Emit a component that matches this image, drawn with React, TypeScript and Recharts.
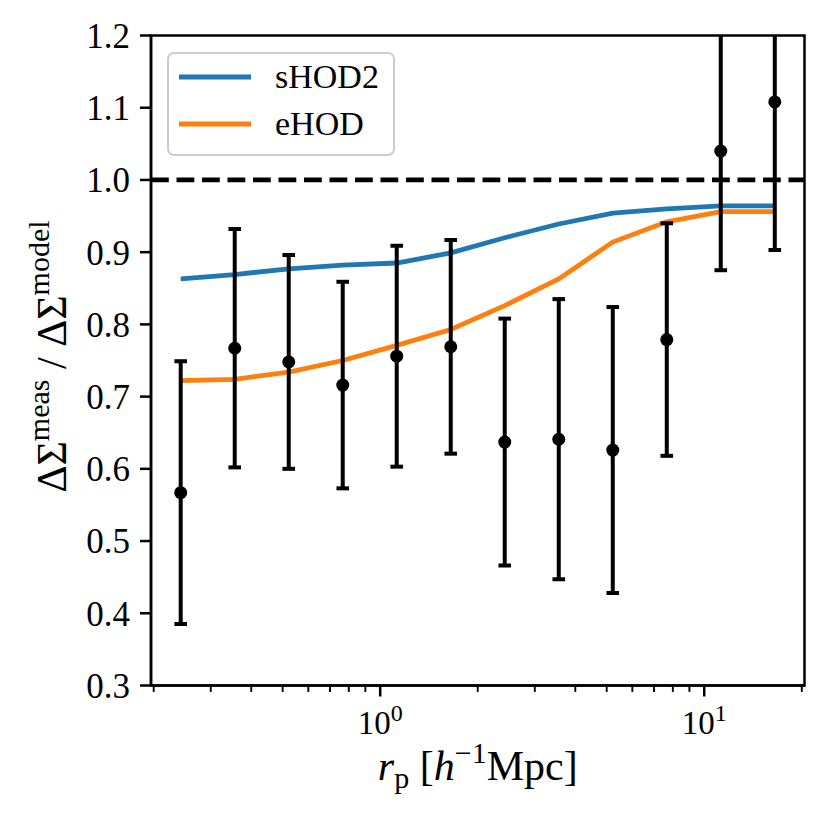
import React from "react";
import {
  ComposedChart, Line, Scatter, ErrorBar, XAxis, YAxis,
  ReferenceLine, ReferenceArea, Legend,
} from "recharts";

// projected radius bins (h^-1 Mpc)
const R_P = [0.2423, 0.3557, 0.5221, 0.7663, 1.1247, 1.651, 2.423, 3.557, 5.221, 7.663, 11.247, 16.51];
// measured ratio and 1-sigma errors
const RATIO = [0.567, 0.767, 0.748, 0.716, 0.756, 0.769, 0.637, 0.641, 0.626, 0.779, 1.040, 1.108];
const RATIO_ERR = [0.182, 0.165, 0.148, 0.143, 0.153, 0.148, 0.171, 0.194, 0.198, 0.161, 0.165, 0.205];
// model curves
const SHOD2 = [0.863, 0.869, 0.877, 0.882, 0.885, 0.899, 0.920, 0.939, 0.954, 0.960, 0.964, 0.964];
const EHOD = [0.722, 0.724, 0.734, 0.750, 0.771, 0.793, 0.826, 0.863, 0.914, 0.942, 0.956, 0.956];

const X_TICKS = [0.2, 0.3, 0.4, 0.5, 0.6, 0.7, 0.8, 0.9, 1, 2, 3, 4, 5, 6, 7, 8, 9, 10, 20];
const X_MAJOR = [1, 10];
const X_MAJOR_EXP = ["0", "1"];
const Y_TICKS = [0.3, 0.4, 0.5, 0.6, 0.7, 0.8, 0.9, 1.0, 1.1, 1.2];

const X_DOMAIN: [number, number] = [0.1962, 20.39];
const Y_DOMAIN: [number, number] = [0.3, 1.2];

const SERIES = [
  { key: "shod2", name: "sHOD2", color: "#1f77b4" },
  { key: "ehod", name: "eHOD", color: "#ff7f0e" },
];

const FONT = "'Liberation Serif', 'DejaVu Serif', serif";
const CLIP_ID = "plot-clip";

const rows = R_P.map((r, i) => ({
  r,
  ratio: RATIO[i],
  err: RATIO_ERR[i],
  shod2: SHOD2[i],
  ehod: EHOD[i],
}));

function LogTick(props: any) {
  const { x, y, payload } = props;
  const idx = X_MAJOR.findIndex((m) => Math.abs(m - payload.value) < 1e-9);
  const major = idx >= 0;
  return (
    <g>
      <line
        x1={x} x2={x} y1={y} y2={y + (major ? 11 : 6.4)}
        stroke="#000" strokeWidth={major ? 2.5 : 1.9}
      />
      {major && (
        <text x={x} y={y + 48} textAnchor="middle" fontFamily={FONT} fontSize={33} fill="#000">
          <tspan>10</tspan>
          <tspan dy={-13} fontSize={24}>{X_MAJOR_EXP[idx]}</tspan>
        </text>
      )}
    </g>
  );
}

function renderXLabel(props: any) {
  const vb = props.viewBox || { x: 151, y: 685.5, width: 653.5, height: 138.5 };
  const x = vb.x + vb.width / 2;
  const y = vb.y + 94.5;
  return (
    <text x={x} y={y} textAnchor="middle" fontFamily={FONT} fontSize={42} fill="#000">
      <tspan fontStyle="italic">r</tspan>
      <tspan dy={8} fontSize={30}>p</tspan>
      <tspan dy={-8}>{"  ["}</tspan>
      <tspan fontStyle="italic">h</tspan>
      <tspan dy={-17} fontSize={30}>−1</tspan>
      <tspan dy={17}>Mpc]</tspan>
    </text>
  );
}

// y label; also holds the plot-area clip used by the error bars
function renderYLabel(props: any) {
  const vb = props.viewBox || { x: 0, y: 35.5, width: 151, height: 650 };
  const x = vb.x + 66;
  const y = vb.y + vb.height / 2 - 4;
  return (
    <g>
      <defs>
        <clipPath id={CLIP_ID}>
          <rect x={vb.x + vb.width} y={vb.y} width={1000} height={vb.height} />
        </clipPath>
      </defs>
      <text
        x={x} y={y} transform={`rotate(-90, ${x}, ${y})`}
        textAnchor="middle" fontFamily={FONT} fontSize={42} fill="#000"
      >
        <tspan>ΔΣ</tspan>
        <tspan dy={-17} fontSize={30}>meas</tspan>
        <tspan dy={17}>{" / ΔΣ"}</tspan>
        <tspan dy={-17} fontSize={30}>model</tspan>
      </text>
    </g>
  );
}

function LegendBox() {
  return (
    <div
      style={{
        width: 228, height: 104, boxSizing: "border-box",
        border: "2px solid #cccccc", borderRadius: 7,
        background: "rgba(255,255,255,0.8)", position: "relative",
      }}
    >
      <svg width={224} height={100} style={{ position: "absolute", left: 0, top: 0 }}>
        {SERIES.map((s, i) => (
          <g key={s.key}>
            <line x1={10} x2={82} y1={23 + i * 47} y2={23 + i * 47} stroke={s.color} strokeWidth={4.8} />
            <text x={106} y={34 + i * 47} fontSize={34} fontFamily={FONT} fill="#000">
              {s.name}
            </text>
          </g>
        ))}
      </svg>
    </div>
  );
}

export default function App() {
  return (
    <div style={{ position: "absolute", left: 0, top: 0, background: "#fff" }}>
      <ComposedChart
        width={829}
        height={824}
        data={rows}
        margin={{ top: 35.5, right: 24.5, left: 0, bottom: 0 }}
      >
        <XAxis
          dataKey="r"
          type="number"
          scale="log"
          domain={X_DOMAIN}
          allowDataOverflow
          ticks={X_TICKS}
          interval={0}
          tick={<LogTick />}
          tickLine={false}
          tickSize={0}
          tickMargin={0}
          axisLine={{ stroke: "#000", strokeWidth: 2.5 }}
          height={138.5}
          label={{ content: renderXLabel }}
        />
        <YAxis
          type="number"
          domain={Y_DOMAIN}
          allowDataOverflow
          ticks={Y_TICKS}
          interval={0}
          width={151}
          tickFormatter={(v: number) => v.toFixed(1)}
          tick={{ fill: "#000", fontSize: 35, fontFamily: FONT }}
          tickSize={11}
          tickMargin={10}
          tickLine={{ stroke: "#000", strokeWidth: 2.5 }}
          axisLine={{ stroke: "#000", strokeWidth: 2.5 }}
          label={{ content: renderYLabel }}
        />
        <ReferenceLine
          y={1}
          stroke="#000"
          strokeWidth={4.8}
          strokeDasharray="17.8 7.7"
        />
        {SERIES.map((s) => (
          <Line
            key={s.key}
            dataKey={s.key}
            name={s.name}
            type="linear"
            stroke={s.color}
            strokeWidth={4.8}
            dot={false}
            activeDot={false}
            isAnimationActive={false}
          />
        ))}
        <Scatter
          dataKey="ratio"
          fill="#000"
          isAnimationActive={false}
          shape={(p: any) => <circle cx={p.cx} cy={p.cy} r={6.5} fill="#000" />}
        >
          <ErrorBar
            dataKey="err"
            direction="y"
            width={6.3}
            stroke="#000"
            strokeWidth={4}
            clipPath={`url(#${CLIP_ID})`}
            isAnimationActive={false}
          />
        </Scatter>
        <ReferenceArea
          x1={X_DOMAIN[0]}
          x2={X_DOMAIN[1]}
          y1={Y_DOMAIN[0]}
          y2={Y_DOMAIN[1]}
          fill="none"
          stroke="#000"
          strokeWidth={2.5}
          ifOverflow="visible"
        />
        <Legend
          layout="vertical"
          align="center"
          verticalAlign="middle"
          wrapperStyle={{ left: 167, top: 52, width: 228, height: 104 }}
          content={() => <LegendBox />}
        />
      </ComposedChart>
    </div>
  );
}
